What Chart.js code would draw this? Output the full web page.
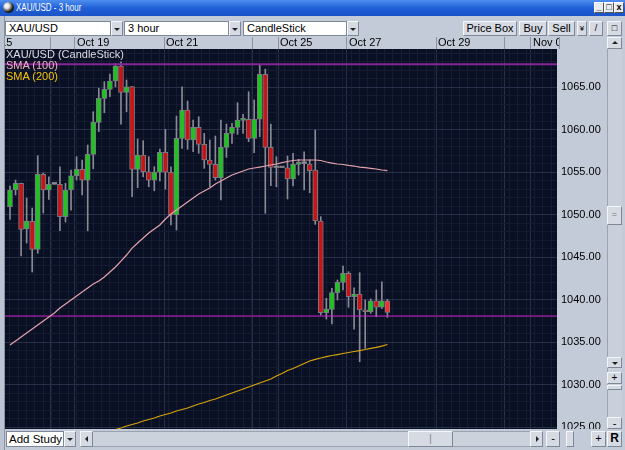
<!DOCTYPE html>
<html>
<head>
<meta charset="utf-8">
<script src="https://cdn.jsdelivr.net/npm/chart.js@4.4.0/dist/chart.umd.min.js"></script>
<style>
html,body{margin:0;padding:0}
body{width:625px;height:450px;position:relative;overflow:hidden;background:#c4cbd8;font:11px "Liberation Sans",Arial,sans-serif;color:#000}
.a{position:absolute;box-sizing:border-box}
#title{left:0;top:0;width:625px;height:16px;background:linear-gradient(#4f8ef0,#2060d8 50%,#1a52c8)}
#title .t{left:16px;top:2px;font-size:10px;color:#fff;transform:scaleX(.8);transform-origin:left top;white-space:nowrap}
#title .ico{left:3px;top:2px;width:11px;height:11px;border-radius:50%;background:radial-gradient(circle at 35% 35%,#fff 0,#ddd 25%,#222 60%,#000 100%)}
.wb{top:2px;width:10px;height:11px;background:#e8ecf2;border:1px solid #fff;border-right-color:#555;border-bottom-color:#555;font:bold 9px/9px "Liberation Sans",Arial;text-align:center;color:#000}
.box{height:15px;background:#fff;border:1px solid #7d8797;padding-left:3px;line-height:13px;white-space:nowrap;overflow:hidden}
.btn{background:#d5dae3;border:1px solid #f4f6f9;border-right-color:#7f8797;border-bottom-color:#7f8797;text-align:center;line-height:13px}
.dn:after,.up:after,.lf:after,.rt:after{content:"";position:absolute;left:50%;top:50%;width:0;height:0}
.dn:after{margin:-1px 0 0 -3px;border:3px solid transparent;border-top:3px solid #222;border-bottom:0}
.up:after{margin:-2px 0 0 -3px;border:3px solid transparent;border-bottom:3px solid #222;border-top:0}
.lf:after{margin:-3px 0 0 -2px;border:3px solid transparent;border-right:3px solid #222;border-left:0}
.rt:after{margin:-3px 0 0 -1px;border:3px solid transparent;border-left:3px solid #222;border-right:0}
#leg{left:6px;top:49px;line-height:11px;font-size:11px;white-space:nowrap}
</style>
</head>
<body>
<div class="a" style="left:0;top:0;width:5px;height:450px;background:#bcc4d1;border-right:1px solid #8a93a3"></div>
<div id="title" class="a">
  <div class="a ico"></div>
  <div class="a t">XAU/USD - 3 hour</div>
  <div class="a wb" style="left:594px">_</div>
  <div class="a wb" style="left:604px">&#9633;</div>
  <div class="a wb" style="left:614px">x</div>
</div>

<div class="a box" style="left:5px;top:21px;width:106px">XAU/USD</div>
<div class="a btn dn" style="left:111px;top:21px;width:12px;height:15px"></div>
<div class="a box" style="left:124px;top:21px;width:105px">3 hour</div>
<div class="a btn dn" style="left:229px;top:21px;width:12px;height:15px"></div>
<div class="a box" style="left:243px;top:21px;width:104px">CandleStick</div>
<div class="a btn dn" style="left:347px;top:21px;width:12px;height:15px"></div>
<div class="a btn" style="left:463px;top:21px;width:54px;height:15px">Price Box</div>
<div class="a btn" style="left:519px;top:21px;width:28px;height:15px">Buy</div>
<div class="a btn" style="left:548px;top:21px;width:27px;height:15px">Sell</div>
<div class="a btn" style="left:577px;top:21px;width:10px;height:15px;font-size:8px">&#165;</div>
<div class="a btn" style="left:589px;top:21px;width:14px;height:15px;font-size:9px">/</div>
<div class="a btn" style="left:607px;top:21px;width:15px;height:15px;font-size:9px">&#9633;</div>

<div class="a" style="left:5px;top:37px;width:600px;height:392px">
  <canvas id="c" width="600" height="392" style="background:#c4cbd8"></canvas>
</div>
<div class="a" style="left:559px;top:37px;width:47px;height:12px;background:#c4cbd8;border-left:1px solid #8b93a3"></div>

<div id="leg" class="a">
  <div style="color:#dcdce4">XAU/USD (CandleStick)</div>
  <div style="color:#f5b2ba">SMA (100)</div>
  <div style="color:#f2c40c">SMA (200)</div>
</div>

<!-- right scroll column -->
<div class="a btn up" style="left:607px;top:37px;width:15px;height:12px"></div>
<div class="a" style="left:607px;top:49px;width:15px;height:380px;background:#c9d0db;border-left:1px solid #9ba3b1"></div>
<div class="a btn" style="left:607px;top:206px;width:15px;height:19px;line-height:15px;font-size:9px;color:#777">=</div>
<div class="a btn dn" style="left:607px;top:357px;width:15px;height:11px"></div>
<div class="a btn" style="left:607px;top:372px;width:15px;height:12px;line-height:10px;font-size:10px">+</div>
<div class="a btn" style="left:607px;top:385px;width:15px;height:5px"></div>
<div class="a btn" style="left:607px;top:417px;width:15px;height:12px;line-height:10px">-</div>

<!-- bottom bar -->
<div class="a box" style="left:6px;top:431px;width:58px;height:16px;line-height:14px;padding-left:2px;font-size:11.5px">Add Study</div>
<div class="a btn dn" style="left:64px;top:431px;width:12px;height:16px"></div>
<div class="a" style="left:80px;top:431px;width:463px;height:16px;background:#ccd2dc;border:1px solid #9ba3b1"></div>
<div class="a btn lf" style="left:80px;top:431px;width:13px;height:16px"></div>
<div class="a btn" style="left:408px;top:431px;width:45px;height:16px;color:#888;line-height:13px">|</div>
<div class="a btn rt" style="left:530px;top:431px;width:13px;height:16px"></div>
<div class="a btn" style="left:546px;top:431px;width:14px;height:16px">-</div>
<div class="a btn" style="left:566px;top:431px;width:8px;height:16px"></div>
<div class="a btn" style="left:591px;top:431px;width:15px;height:16px">+</div>
<div class="a btn" style="left:607px;top:431px;width:15px;height:16px;font-weight:bold;font-size:12px">R</div>

<script>
// 3-hour candles, index 0..68 (left to right)
const candleOpen = [
  1050.95, 1052.92, 1053.71, 1048.33, 1049.23, 1045.94, 1054.76, 1052.92, 1053.59, 1053.59,
  1049.78, 1052.92, 1054.60, 1055.35, 1054.09, 1057.12, 1060.88, 1063.71, 1064.76, 1065.74,
  1067.51, 1064.41, 1065.09, 1055.35, 1057.03, 1055.07, 1054.09, 1055.03, 1057.35, 1055.00,
  1049.98, 1059.00, 1062.33, 1058.80, 1060.29, 1058.29, 1056.45, 1055.94, 1054.36, 1057.94,
  1059.59, 1060.29, 1061.12, 1061.24, 1059.00, 1061.24, 1066.53, 1057.94, 1055.59, 1055.54,
  1055.54, 1054.21, 1055.94, 1056.03, 1055.98, 1055.27, 1049.27, 1038.48, 1038.88, 1040.84,
  1042.06, 1043.12, 1040.36, 1040.68, 1038.80, 1038.60, 1039.89, 1039.12, 1039.89];
const candleHigh = [
  1053.39, 1054.09, 1053.74, 1051.98, 1050.80, 1056.95, 1054.92, 1054.48, 1053.59, 1055.66,
  1053.71, 1055.27, 1056.84, 1056.45, 1058.21, 1062.13, 1064.88, 1065.66, 1066.56, 1067.82,
  1068.01, 1065.86, 1065.09, 1058.92, 1058.72, 1056.84, 1055.66, 1057.74, 1060.06, 1055.66,
  1061.62, 1065.07, 1063.39, 1061.15, 1061.54, 1059.59, 1058.80, 1059.27, 1061.15, 1060.68,
  1060.76, 1063.19, 1061.82, 1064.48, 1063.51, 1067.71, 1067.15, 1060.68, 1056.84, 1055.54,
  1056.92, 1057.24, 1056.53, 1057.42, 1056.45, 1059.98, 1049.78, 1040.18, 1041.35, 1042.33,
  1043.98, 1043.31, 1041.42, 1043.19, 1039.98, 1040.09, 1041.15, 1042.13, 1040.06];
const candleLow = [
  1049.47, 1052.33, 1045.15, 1046.68, 1043.27, 1045.47, 1050.21, 1051.82, 1053.59, 1048.13,
  1049.15, 1050.56, 1054.09, 1052.33, 1048.13, 1055.42, 1059.78, 1062.01, 1063.89, 1065.07,
  1060.68, 1062.13, 1052.13, 1053.19, 1054.48, 1053.30, 1052.83, 1053.98, 1053.00, 1048.80,
  1048.21, 1057.82, 1057.71, 1057.42, 1057.24, 1055.47, 1053.30, 1054.09, 1051.74, 1056.76,
  1058.41, 1059.47, 1059.59, 1058.60, 1057.31, 1059.19, 1050.18, 1053.42, 1053.30, 1055.54,
  1051.86, 1053.39, 1054.68, 1052.92, 1052.60, 1048.88, 1038.21, 1037.74, 1037.15, 1039.98,
  1041.15, 1039.12, 1036.56, 1032.72, 1034.29, 1038.41, 1038.01, 1039.00, 1037.94];
const candleClose = [
  1052.92, 1053.71, 1048.29, 1049.27, 1045.94, 1054.76, 1052.92, 1053.59, 1053.59, 1049.78,
  1052.92, 1054.60, 1055.35, 1054.09, 1057.12, 1060.88, 1063.71, 1064.76, 1065.74, 1067.51,
  1064.41, 1065.07, 1055.35, 1057.03, 1055.07, 1054.09, 1055.03, 1057.35, 1055.03, 1049.98,
  1059.00, 1062.33, 1058.80, 1060.29, 1058.29, 1056.45, 1055.94, 1054.36, 1057.94, 1059.59,
  1060.29, 1061.15, 1061.24, 1059.00, 1061.24, 1066.53, 1057.94, 1055.59, 1055.54, 1055.54,
  1054.21, 1055.94, 1056.06, 1056.03, 1055.19, 1049.27, 1038.48, 1038.92, 1040.84, 1042.06,
  1043.12, 1040.36, 1040.68, 1038.80, 1038.60, 1039.89, 1039.12, 1039.89, 1038.53];

const sma100 = [
  1034.68, 1035.15, 1035.62, 1036.09, 1036.56, 1037.03, 1037.51, 1037.98, 1038.45, 1039.03,
  1039.51, 1039.98, 1040.45, 1040.92, 1041.39, 1041.86, 1042.21, 1042.68, 1043.27, 1043.86,
  1044.56, 1045.27, 1046.09, 1046.68, 1047.27, 1047.86, 1048.33, 1048.80, 1049.51, 1050.09,
  1050.56, 1051.03, 1051.51, 1051.98, 1052.45, 1052.80, 1053.15, 1053.62, 1053.98, 1054.33,
  1054.68, 1054.92, 1055.15, 1055.39, 1055.51, 1055.62, 1055.74, 1055.86, 1055.98, 1056.15,
  1056.27, 1056.39, 1056.45, 1056.45, 1056.45, 1056.45, 1056.39, 1056.21, 1056.09, 1055.98,
  1055.92, 1055.82, 1055.74, 1055.62, 1055.56, 1055.47, 1055.39, 1055.27, 1055.19];
const sma200 = [
  null, null, null, null, null, null, null, null, null, null,
  null, null, null, null, null, null, null, null, 1024.56, 1024.74,
  1024.92, 1025.15, 1025.33, 1025.51, 1025.74, 1025.92, 1026.09, 1026.33, 1026.51, 1026.68,
  1026.92, 1027.09, 1027.27, 1027.51, 1027.74, 1027.92, 1028.15, 1028.33, 1028.56, 1028.80,
  1029.03, 1029.27, 1029.51, 1029.74, 1029.98, 1030.21, 1030.45, 1030.68, 1031.03, 1031.33,
  1031.68, 1031.92, 1032.21, 1032.51, 1032.80, 1033.00, 1033.15, 1033.31, 1033.45, 1033.56,
  1033.68, 1033.80, 1033.92, 1034.03, 1034.15, 1034.29, 1034.41, 1034.56, 1034.74];

// horizontal price lines
const levelLines = [1067.71, 1038.09];

// day separators (in candle-index units) and their header labels
const dayDividers = [-5.77, 7.21, 11.71, 27.75, 43.78, 48.29, 60.72, 76.76, 89.19, 93.87];
const dayLabels = ['Oct 15', '', 'Oct 19', 'Oct 21', '', 'Oct 25', 'Oct 27', 'Oct 29', '', 'Nov 02'];

const xMin = -0.9, xMax = 98.56;
const yMin = 1024.8, yMax = 1069.51;

const GRID_MAJOR = '#283049', GRID_MINOR = '#151b30';
const isMajor = v => Math.abs(v / 5 - Math.round(v / 5)) < 1e-6;

const bodyColors = candleOpen.map((o, i) => {
  const c = candleClose[i];
  if (Math.abs(c - o) < 0.1) return '#a4a4ac';
  if (c > o) return '#1ec41e';
  return i === candleOpen.length - 1 ? '#ff2a2a' : '#c81414';
});

const plotBg = {
  id: 'plotBg',
  beforeDraw(chart) {
    const { ctx, chartArea: a } = chart;
    ctx.save();
    ctx.fillStyle = '#0a1024';
    ctx.fillRect(a.left, a.top, a.width, a.height);
    ctx.restore();
  }
};

const noPad = s => { s.paddingLeft = 0; s.paddingRight = 0; s.paddingTop = 0; s.paddingBottom = 0; };
const font = { family: 'Liberation Sans', size: 11 };

new Chart(document.getElementById('c'), {
  type: 'bar',
  data: {
    datasets: [
      { type: 'line', label: 'SMA (100)', data: sma100.map((v, i) => ({ x: i, y: v })),
        borderColor: '#e3a2ab', borderWidth: 1.2, pointRadius: 0, order: 0 },
      { type: 'line', label: 'SMA (200)', data: sma200.map((v, i) => ({ x: i, y: v })),
        borderColor: '#d6a30a', borderWidth: 1.2, pointRadius: 0, order: 0 },
      ...levelLines.map((v, j) => ({
        type: 'line', label: 'level', data: [{ x: xMin - 2, y: v }, { x: xMax + 2, y: v }],
        borderColor: j ? '#cc22cc' : '#86259a', borderWidth: j ? 1 : 2, pointRadius: 0, order: 0 })),
      { type: 'bar', label: 'body', data: candleOpen.map((o, i) => ({ x: i, y: [o, candleClose[i]] })),
        backgroundColor: bodyColors, borderColor: '#7a7a84', borderWidth: 1, borderSkipped: false,
        barThickness: 5, minBarLength: 2, grouped: false, order: 1 },
      { type: 'bar', label: 'wick', data: candleHigh.map((h, i) => ({ x: i, y: [candleLow[i], h] })),
        backgroundColor: '#8a8a94', barThickness: 1, grouped: false, order: 2 }
    ]
  },
  options: {
    responsive: false,
    animation: false,
    layout: { padding: 0 },
    plugins: { legend: { display: false }, tooltip: { enabled: false } },
    scales: {
      x: {
        type: 'linear', position: 'top', min: xMin, max: xMax, offset: false,
        afterBuildTicks: s => { s.ticks = dayDividers.map(v => ({ value: v })); },
        afterFit: s => { s.height = 12; noPad(s); },
        ticks: { autoSkip: false, maxRotation: 0, align: 'start', labelOffset: 2, padding: -12.6,
                 color: '#000', font, callback: (v, i) => dayLabels[i] },
        grid: { offset: false, color: GRID_MAJOR, tickLength: 12, tickColor: '#8b93a3' },
        border: { display: false }
      },
      xm: {
        type: 'linear', position: 'bottom', min: xMin, max: xMax, offset: false,
        afterBuildTicks: s => { const t = []; for (let v = 0; v <= 98; v += 1.5) t.push({ value: v }); s.ticks = t; },
        afterFit: s => { s.height = 0; noPad(s); },
        ticks: { display: false, autoSkip: false },
        grid: { offset: false, color: GRID_MINOR, drawTicks: false },
        border: { display: false }
      },
      y: {
        type: 'linear', position: 'right', min: yMin, max: yMax,
        afterBuildTicks: s => { const t = []; for (let v = 1025; v <= 1069; v++) t.push({ value: v }); s.ticks = t; },
        afterFit: s => { s.width = 48; noPad(s); },
        ticks: { autoSkip: false, padding: 4, color: '#000', font,
                 callback: v => isMajor(v) ? v.toFixed(2) : '' },
        grid: { color: c => (c.tick && isMajor(c.tick.value)) ? GRID_MAJOR : GRID_MINOR, drawTicks: false },
        border: { display: false }
      }
    }
  },
  plugins: [plotBg]
});
</script>
</body>
</html>
